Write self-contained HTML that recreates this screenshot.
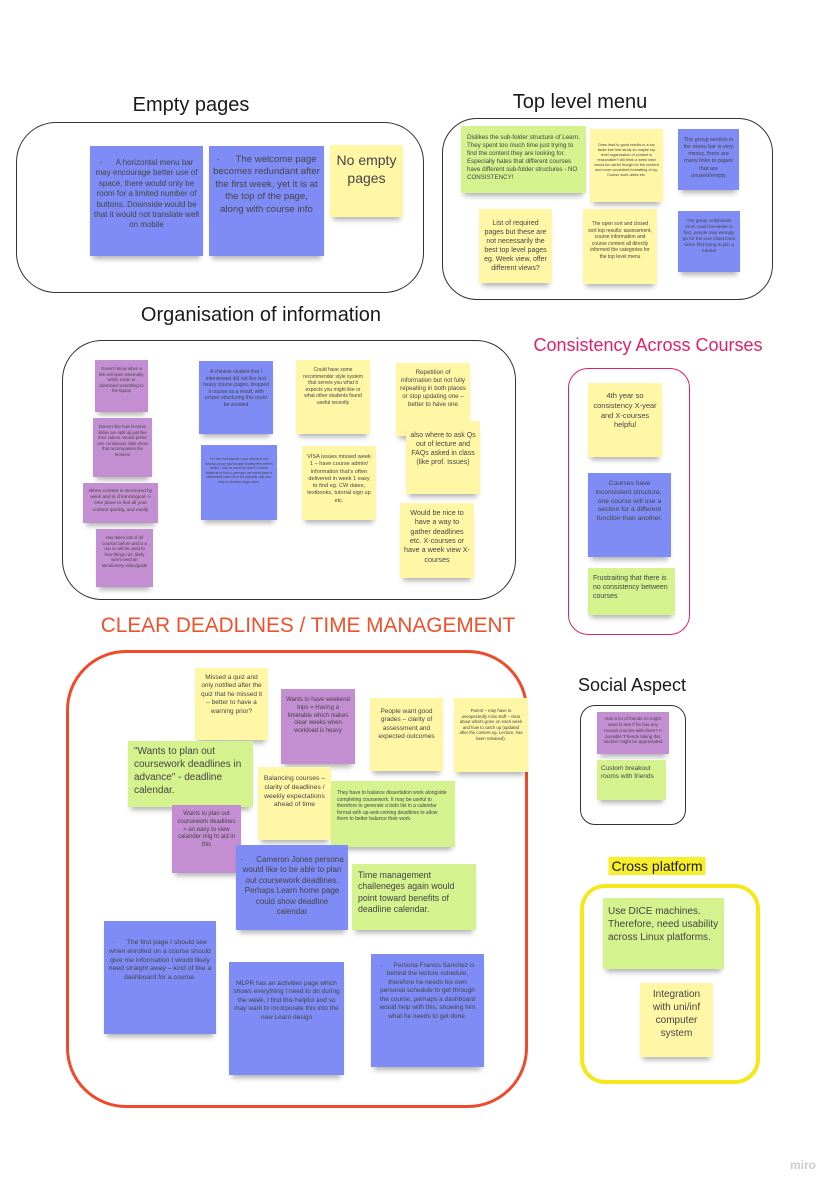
<!DOCTYPE html>
<html><head><meta charset="utf-8"><style>
*{margin:0;padding:0;box-sizing:border-box}
body{width:840px;height:1189px;background:#fff;position:relative;overflow:hidden;font-family:"Liberation Sans","DejaVu Sans",sans-serif;color:#333}
.t{position:absolute;white-space:nowrap;transform:translateX(-50%);color:#1a1a1a}
.f{position:absolute;border:1px solid #333}
.n{position:absolute;text-align:center;padding:6px 4px;line-height:1.3;box-shadow:0 6px 5px -3px rgba(0,0,0,.3);color:#444;overflow:hidden}
.b{background:#7f8cf6}.y{background:#fff7a6}.g{background:#d4f28e}.p{background:#c38fd2}
</style></head><body>
<div class="t" style="left:191px;top:94px;font-size:20px">Empty pages</div>
<div class="t" style="left:580px;top:91px;font-size:20px">Top level menu</div>
<div class="t" style="left:261px;top:304px;font-size:20px">Organisation of information</div>
<div class="t" style="left:648px;top:335px;font-size:18px;color:#e0206b">Consistency Across Courses</div>
<div class="t" style="left:308px;top:614px;font-size:20.8px;color:#f0502a">CLEAR DEADLINES / TIME MANAGEMENT</div>
<div class="t" style="left:632px;top:675px;font-size:18px">Social Aspect</div>
<div class="t" style="left:657px;top:857px;font-size:14px;background:#f8ef2c;padding:1px 3px">Cross platform</div>
<div style="position:absolute;left:790px;top:1158px;font-size:12px;color:#ccc;font-weight:bold">miro</div>

<div class="f" style="left:16px;top:122px;width:408px;height:171px;border-radius:40px"></div>
<div class="f" style="left:442px;top:118px;width:331px;height:182px;border-radius:35px"></div>
<div class="f" style="left:62px;top:340px;width:454px;height:260px;border-radius:40px"></div>
<div class="f" style="left:568px;top:368px;width:122px;height:267px;border-radius:20px;border-color:#e0206b"></div>
<div class="f" style="left:66px;top:650px;width:462px;height:458px;border-radius:60px;border:3px solid #f04a2a"></div>
<div class="f" style="left:580px;top:705px;width:106px;height:120px;border-radius:15px"></div>
<div class="f" style="left:580px;top:884px;width:180px;height:200px;border-radius:25px;border:4px solid #f5e81a"></div>

<div class="n b" style="left:90px;top:146px;width:113px;height:110px;font-size:8px;padding-top:12px">·&nbsp;&nbsp;&nbsp;&nbsp;&nbsp;&nbsp;A horizontal menu bar may encourage better use of space, there would only be room for a limited number of buttons. Downside would be that it would not translate well on mobile</div>
<div class="n b" style="left:209px;top:146px;width:115px;height:110px;font-size:9.6px;padding-top:8px">·&nbsp;&nbsp;&nbsp;&nbsp;&nbsp;&nbsp;The welcome page becomes redundant after the first week, yet it is at the top of the page, along with course info</div>
<div class="n y" style="left:330px;top:145px;width:73px;height:72px;font-size:14px;padding-top:6px">No empty pages</div>

<div class="n g" style="left:461px;top:126px;width:125px;height:67px;font-size:6.2px;text-align:left;padding:8px 6px">Dislikes the sub-folder structure of Learn. They spent too much time just trying to find the content they are looking for. Especially hates that different courses have different sub-folder structures - NO CONSISTENCY!</div>
<div class="n y" style="left:590px;top:129px;width:73px;height:73px;font-size:3.8px;padding-top:14px">Does lead to good results in a top tasks tree test study so maybe top level organisation of content is reasonable? still think a week view would be useful though for the content and more consistent formatting of eg. Course work dates etc.</div>
<div class="n b" style="left:678px;top:129px;width:61px;height:61px;font-size:5.5px;padding-top:8px">The group section in the menu bar is very messy, there are many links to pages that are unused/empty</div>
<div class="n y" style="left:479px;top:209px;width:73px;height:74px;font-size:7px;padding-top:10px">List of required pages but these are not necessarily the best top level pages eg. Week view, offer different views?</div>
<div class="n y" style="left:583px;top:209px;width:74px;height:75px;font-size:5px;padding-top:12px">The open sort and closed sort top results: assessment, course information and course content all directly informed the categories for the top level menu</div>
<div class="n b" style="left:678px;top:211px;width:62px;height:61px;font-size:4.6px;padding-top:7px">The group collaborate room could be easier to find, people may wrongly go for the Live Classroom when first trying to join a tutorial</div>

<div class="n p" style="left:95px;top:360px;width:53px;height:52px;font-size:4.3px">Doesn't know when a link will open externally, within Learn or download something to the laptop</div>
<div class="n p" style="left:93px;top:418px;width:59px;height:59px;font-size:4.3px">Doesn't like how lectures slides are split up just like their videos. Would prefer one continuous slide show that accompanies the lectures</div>
<div class="n p" style="left:83px;top:483px;width:75px;height:40px;font-size:4.8px">When content is structured by week and is chronological -&gt; One place to find all your content quickly, and easily</div>
<div class="n p" style="left:96px;top:529px;width:57px;height:58px;font-size:4.3px">Has taken lots of inf courses before and is a rep so will be used to how things run, likely won't need an introductory video/guide</div>
<div class="n b" style="left:199px;top:361px;width:74px;height:73px;font-size:5px;padding-top:8px">A chinese student that I interviewed did not like text heavy course pages, dropped a course as a result, with proper structuring this could be avoided</div>
<div class="n b" style="left:201px;top:445px;width:76px;height:75px;font-size:3.5px;padding-top:12px">For the first tutorial I and others in my tutorial group had trouble finding the week's tasks, I had to scroll far down Course Material to find it, perhaps we could have a dedicated menu item for tutorials, will also help to shorten page sizes.</div>
<div class="n y" style="left:296px;top:360px;width:74px;height:74px;font-size:5px;padding-top:7px">Could have some recommender style system that serves you what it expects you might like or what other students found useful recently</div>
<div class="n y" style="left:302px;top:446px;width:74px;height:74px;font-size:5.6px;padding-top:8px">VISA issues missed week 1 – have course admin/ information that's often delivered in week 1 easy to find eg. CW dates, textbooks, tutorial sign up etc.</div>
<div class="n y" style="left:396px;top:363px;width:74px;height:73px;font-size:6.2px">Repetition of information but not fully repeating in both places or stop updating one – better to have one</div>
<div class="n y" style="left:406px;top:421px;width:74px;height:73px;font-size:7px;padding-top:10px">also where to ask Qs out of lecture and FAQs asked in class (like prof. Issues)</div>
<div class="n y" style="left:400px;top:503px;width:74px;height:75px;font-size:7.2px;padding-top:5px">Would be nice to have a way to gather deadlines etc. X-courses or have a week view X-courses</div>

<div class="n y" style="left:588px;top:383px;width:74px;height:74px;font-size:7.5px;padding-top:8px">4th year so consistency X-year and X-courses helpful</div>
<div class="n b" style="left:588px;top:473px;width:83px;height:84px;font-size:6.8px;padding-top:7px">Courses have inconsistent structure,&nbsp; one course will use a section for a different function than another.</div>
<div class="n g" style="left:588px;top:568px;width:87px;height:47px;font-size:7px;text-align:left;padding:6px 5px">Frustraiting that there is no consistency between courses</div>

<div class="n y" style="left:195px;top:668px;width:73px;height:72px;font-size:6.5px">Missed a quiz and only notified after the quiz that he missed it – better to have a warning prior?</div>
<div class="n p" style="left:281px;top:689px;width:74px;height:75px;font-size:6px;padding-top:8px">Wants to have weekend trips = Having a timetable which makes clear weeks when workload is heavy</div>
<div class="n y" style="left:370px;top:698px;width:73px;height:73px;font-size:6.5px;padding-top:10px">People want good grades – clarity of assessment and expected outcomes</div>
<div class="n y" style="left:454px;top:698px;width:74px;height:74px;font-size:4.3px;padding-top:10px">Parent – may have to unexpectedly miss stuff – clear about what's gone on each week and how to catch up (updated after the content eg. Lecture, has been released).</div>
<div class="n g" style="left:128px;top:741px;width:125px;height:66px;font-size:10px;text-align:left;padding:4px 6px">"Wants to plan out coursework deadlines in advance" - deadline calendar.</div>
<div class="n y" style="left:258px;top:767px;width:73px;height:73px;font-size:6.8px;padding-top:8px">Balancing courses – clarity of deadlines / weekly expectations ahead of time</div>
<div class="n g" style="left:331px;top:781px;width:124px;height:66px;font-size:5px;text-align:left;padding:9px 6px">They have to balance dissertation work alongside completing coursework. It may be useful to therefore to generate a todo list in a calendar format with up-and-coming deadlines to allow them to better balance their work.</div>
<div class="n p" style="left:172px;top:805px;width:69px;height:68px;font-size:6px">Wants to plan out coursework deadlines = an easy to view calander mig ht aid in this</div>
<div class="n b" style="left:236px;top:845px;width:112px;height:85px;font-size:8px;padding-top:10px">·&nbsp;&nbsp;&nbsp;&nbsp;&nbsp;&nbsp;Cameron Jones persona would like to be able to plan out coursework deadlines. Perhaps Learn home page could show deadline calendar</div>
<div class="n g" style="left:352px;top:864px;width:124px;height:66px;font-size:8.8px;text-align:left;padding:6px 6px">Time management challeneges again would point toward benefits of deadline calendar.</div>
<div class="n b" style="left:104px;top:921px;width:112px;height:113px;font-size:6.8px;padding-top:18px">·&nbsp;&nbsp;&nbsp;&nbsp;&nbsp;&nbsp;The first page I should see when enrolled on a course should give me information I would likely need straight away – kind of like a dashboard for a course.</div>
<div class="n b" style="left:229px;top:962px;width:115px;height:113px;font-size:6.5px;padding-top:18px">MLPR has an activities page which shows everything I need to do during the week, I find this helpful and so may want to incorporate this into the new Learn design</div>
<div class="n b" style="left:371px;top:954px;width:113px;height:113px;font-size:6.5px;padding-top:8px">·&nbsp;&nbsp;&nbsp;&nbsp;&nbsp;&nbsp;Persona Francis Sanchez is behind the lecture schedule, therefore he needs his own personal schedule to get through the course, perhaps a dashboard would help with this, showing him what he needs to get done.</div>

<div class="n p" style="left:597px;top:712px;width:72px;height:42px;font-size:4.5px;padding-top:4px">Has a lot of friends so might want to see if he has any mutual courses with them? A possible 'Friends taking this section' might be appreciated</div>
<div class="n g" style="left:597px;top:760px;width:69px;height:40px;font-size:6.5px;text-align:left;padding:5px 4px">Custom breakout rooms with friends</div>

<div class="n g" style="left:603px;top:898px;width:121px;height:71px;font-size:10px;text-align:left;padding:7px 5px">Use DICE machines. Therefore, need usability across Linux platforms.</div>
<div class="n y" style="left:640px;top:983px;width:73px;height:74px;font-size:10px;padding-top:5px">Integration with uni/inf computer system</div>
</body></html>
